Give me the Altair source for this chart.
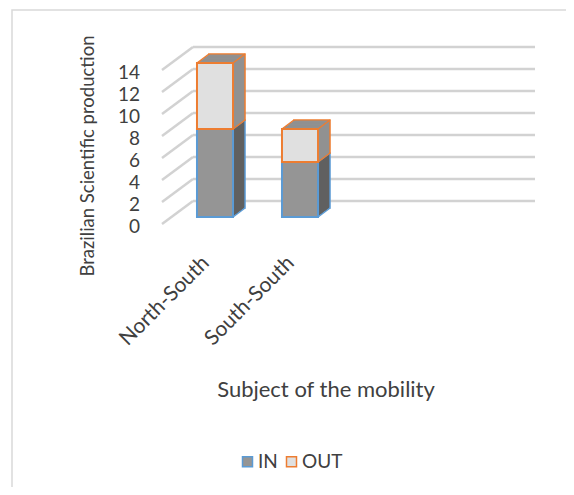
import altair as alt
import pandas as pd

categories = ["North-South", "South-South"]
series = ["IN", "OUT"]
in_values = [8, 5]
out_values = [6, 3]
y_ticks = [0, 2, 4, 6, 8, 10, 12, 14]

FONT = "Lato"
TXT = "#404040"
DX, DY = 12, -9

rows = []
for s, vals in zip(series, [in_values, out_values]):
    for c, v in zip(categories, vals):
        rows.append({"category": c, "series": s, "value": v, "order": series.index(s)})
bars = pd.DataFrame(rows)
ticks = pd.DataFrame({"v": y_ticks, "label": [str(t) for t in y_ticks]})
cats = pd.DataFrame({"category": categories})
one = pd.DataFrame({"a": [0]})

yscale = alt.Scale(domain=[0, 14], range=[209, 55], nice=False, zero=True)
xscale = alt.Scale(domain=categories, range=[164.5, 334.5], paddingInner=0.576, paddingOuter=0.288)

front_fill = {"IN": "#959595", "OUT": "#e0e0e0"}
side_fill = {"IN": "#606060", "OUT": "#919191"}
edge = {"IN": "#5b9bd5", "OUT": "#ed7d31"}

X = alt.X("category:N", scale=xscale, axis=None)
Y1 = alt.Y("y1:Q", scale=yscale, axis=None)
Y0 = alt.Y2("y0:Q")

stacked = alt.Chart(bars).transform_stack(
    stack="value", groupby=["category"], as_=["y0", "y1"], sort=[alt.SortField("order")]
)

frame = alt.Chart(one).mark_rect(fill="white", stroke="#d9d9d9", strokeWidth=1.5).encode(
    x=alt.value(4), y=alt.value(2), x2=alt.value(700), y2=alt.value(700)
)

slant = alt.Chart(ticks).mark_rule(color="#d2d2d2", strokeWidth=2.5, yOffset=7, y2Offset=-16).encode(
    x=alt.value(154), x2=alt.value(185),
    y=alt.Y("v:Q", scale=yscale, axis=None), y2="v:Q"
)
back = alt.Chart(ticks).mark_rule(color="#d2d2d2", strokeWidth=2.5, yOffset=-16).encode(
    x=alt.value(185), x2=alt.value(527),
    y=alt.Y("v:Q", scale=yscale, axis=None)
)

layers = [frame, slant, back]

for s in series:
    seg = stacked.transform_filter(alt.datum.series == s)
    layers.append(
        seg.mark_bar(xOffset=DX, yOffset=DY, y2Offset=DY, fill=side_fill[s], stroke=edge[s], strokeWidth=1.5)
        .encode(x=X, y=Y1, y2=Y0)
    )
    for k in range(11, 0, -1):
        layers.append(
            seg.mark_bar(xOffset=DX * k / 12, yOffset=DY * k / 12, y2Offset=DY * k / 12,
                         fill=side_fill[s], strokeWidth=0)
            .encode(x=X, y=Y1, y2=Y0)
        )
    for bp, yf in [(0, "y1"), (1, "y1"), (1, "y0")]:
        layers.append(
            seg.mark_rule(stroke=edge[s], strokeWidth=1.5, x2Offset=DX, y2Offset=DY).encode(
                x=alt.X("category:N", scale=xscale, axis=None, bandPosition=bp),
                x2=alt.X2("category:N", bandPosition=bp),
                y=alt.Y(f"{yf}:Q", scale=yscale, axis=None),
                y2=alt.Y2(f"{yf}:Q"),
            )
        )

front = stacked.mark_bar(strokeWidth=2).encode(
    x=X, y=Y1, y2=Y0,
    color=alt.Color(
        "series:N",
        scale=alt.Scale(domain=series, range=[front_fill[s] for s in series]),
        legend=alt.Legend(
            orient="none", legendX=230, legendY=444, direction="horizontal", title=None,
            symbolType="square", symbolSize=100, symbolStrokeWidth=1.5,
            labelFont=FONT, labelFontSize=19, labelColor=TXT, labelOffset=1,
            columnPadding=4, padding=0,
        ),
    ),
    stroke=alt.Stroke("series:N", scale=alt.Scale(domain=series, range=[edge[s] for s in series])),
)
layers.append(front)

layers.append(alt.Chart(ticks).mark_text(
    align="right", baseline="middle", yOffset=10, font=FONT, fontSize=19, color=TXT
).encode(x=alt.value(132), y=alt.Y("v:Q", scale=yscale, axis=None), text="label:N"))

layers.append(alt.Chart(cats).mark_text(
    align="right", baseline="middle", angle=315, xOffset=-9, font=FONT, fontSize=21, color=TXT
).encode(x=X, y=alt.value(252), text="category:N"))

layers.append(alt.Chart(one).mark_text(
    text="Brazilian Scientific production", angle=270, align="center", baseline="middle",
    font=FONT, fontSize=18.5, color=TXT
).encode(x=alt.value(80), y=alt.value(148)))

layers.append(alt.Chart(one).mark_text(
    text="Subject of the mobility", align="center", baseline="middle",
    font=FONT, fontSize=22, color=TXT
).encode(x=alt.value(318), y=alt.value(382)))

chart = alt.layer(*layers).properties(
    width=558, height=479, padding=0, autosize=alt.AutoSizeParams(type="none")
).configure_view(stroke=None)

chart.save("out.html", embed_options={"renderer": "svg", "actions": False})
